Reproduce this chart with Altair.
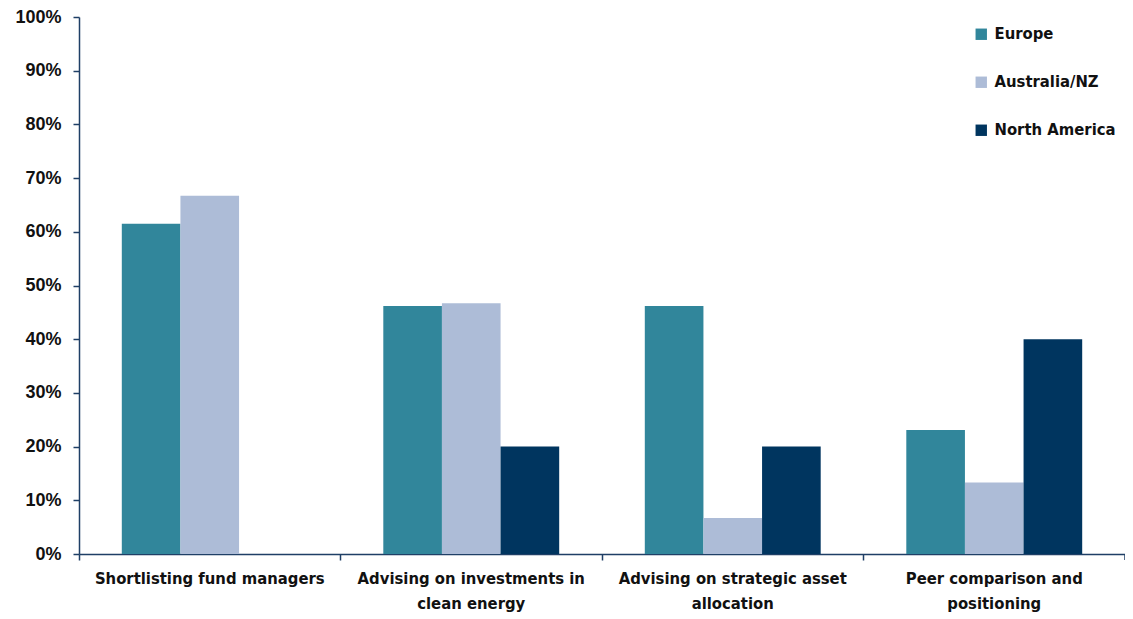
import altair as alt
import pandas as pd

categories = [
    "Shortlisting fund managers",
    "Advising on investments in clean energy",
    "Advising on strategic asset allocation",
    "Peer comparison and positioning",
]
label_lines = {
    "Shortlisting fund managers": ["Shortlisting fund managers"],
    "Advising on investments in clean energy": ["Advising on investments in", "clean energy"],
    "Advising on strategic asset allocation": ["Advising on strategic asset", "allocation"],
    "Peer comparison and positioning": ["Peer comparison and", "positioning"],
}
regions = ["Europe", "Australia/NZ", "North America"]
colors = ["#31869b", "#adbcd7", "#00355f"]

europe = [0.615, 0.462, 0.462, 0.231]
australia = [0.667, 0.467, 0.067, 0.133]
north_america = [0.0, 0.20, 0.20, 0.40]

rows = []
for i, c in enumerate(categories):
    for r, vals in zip(regions, [europe, australia, north_america]):
        rows.append({"category": c, "region": r, "value": vals[i]})
df = pd.DataFrame(rows)

W, H = 1046, 537
axis_color = "#1f3f66"
narrow = "'DejaVu Sans Condensed', 'Liberation Sans Narrow', 'Liberation Sans', sans-serif"

expr = "".join(
    f"datum.value == '{k}' ? {v!r} : " for k, v in label_lines.items()
) + "datum.value"

bars = alt.Chart(df).mark_bar().encode(
    x=alt.X("category:N", sort=categories, title=None,
            scale=alt.Scale(paddingInner=0, paddingOuter=0),
            axis=alt.Axis(bandPosition=0, labelAngle=0, domainColor=axis_color,
                          tickColor=axis_color, tickSize=6, domainWidth=1.5,
                          tickWidth=1.5, labelFont=narrow, labelFontSize=16.5,
                          labelFontWeight="bold", labelColor="#111111",
                          labelPadding=10, labelLineHeight=25, labelExpr=expr,
                          labelBaseline="top", labelLimit=0)),
    xOffset=alt.XOffset("region:N", sort=regions,
                        scale=alt.Scale(paddingInner=0, paddingOuter=0.73)),
    y=alt.Y("value:Q", title=None,
            scale=alt.Scale(domain=[0, 1]),
            axis=alt.Axis(format=".0%", values=[i / 10 for i in range(11)],
                          grid=False, domainColor=axis_color, tickColor=axis_color,
                          tickSize=6, domainWidth=1.5, tickWidth=1.5,
                          labelFont="Liberation Sans", labelFontSize=18,
                          labelFontWeight="bold", labelColor="#111111",
                          labelPadding=12)),
    color=alt.Color("region:N", sort=regions,
                    scale=alt.Scale(domain=regions, range=colors),
                    legend=alt.Legend(title=None, orient="none", legendX=894,
                                      legendY=9, symbolType="square",
                                      symbolSize=130, symbolStrokeWidth=0,
                                      labelFont=narrow, labelFontSize=16.5,
                                      labelFontWeight="bold", labelColor="#111111",
                                      rowPadding=31, labelOffset=5, labelLimit=0)),
)

end_tick = alt.Chart(pd.DataFrame({"v": [0]})).mark_rule(
    color=axis_color, strokeWidth=1.5
).encode(x=alt.value(W), y=alt.value(H), y2=alt.value(H + 6))

chart = alt.layer(bars, end_tick).properties(
    width=W, height=H,
    autosize=alt.AutoSizeParams(type="none"),
    padding={"left": 71, "top": 9, "right": 0, "bottom": 61},
).configure_view(stroke=None)

chart.save("out.html", embed_options={"renderer": "svg", "actions": False})
